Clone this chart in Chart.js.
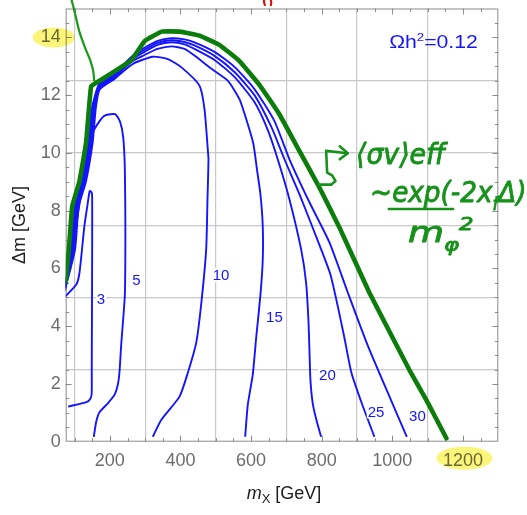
<!DOCTYPE html>
<html>
<head>
<meta charset="utf-8">
<script src="https://cdn.jsdelivr.net/npm/chart.js@4/dist/chart.umd.min.js"></script>
<style>
  html, body { margin: 0; padding: 0; background: #fff; }
  #wrap { width: 527px; height: 515px; position: relative; }
</style>
</head>
<body>
<div id="wrap"><canvas id="c" width="527" height="515"></canvas></div>
<script>
// ---- axis ticks ----
const xTicksLabeled = [200, 400, 600, 800, 1000, 1200];
const yTicksLabeled = [0, 2, 4, 6, 8, 10, 12, 14];
const xGrid = [100, 300, 500, 700, 900, 1100];
const yGrid = [2.5, 5, 7.5, 10, 12.5];
const xMinorStep = 50;
const yMinorStep = 0.5;

// ---- relic-density envelope (thick green) : [m_X, Δm] ----
const envelope = [
  [75, 5.55], [84, 6.66], [93.5, 8.15], [114, 9.02], [133, 10.37], [147, 12.3],
  [171, 12.5], [246, 13.08], [262, 13.22], [299, 13.88], [347, 14.2], [398, 14.2],
  [454, 14.06], [510, 13.74], [567, 13.18], [624, 12.35], [680, 11.34], [737, 10.06],
  [793, 8.81], [850, 7.42], [935, 5.16], [1048, 2.49], [1096, 1.45], [1153, 0.12]
];

// ---- Ωh² = 0.12 contours (blue), one per coupling value ----
const contour3 = [
  [73, 5.02], [105, 5.44], [114, 5.85], [128, 7.47], [137, 8.22], [143, 8.68],
  [149, 8.62], [150, 8.3], [150, 7.0], [149.5, 4.9], [148.8, 2.5], [148.5, 1.65],
  [144, 1.47], [134, 1.37], [82, 1.22]
];
const contour5 = [
  [73, 5.2], [85.8, 6.14], [102.8, 7.35], [122.6, 8.91], [136.8, 9.85], [147.3, 10.59],
  [170.8, 11.1], [187, 11.3], [215, 11.34], [229, 11.08], [238, 10.53], [242.5, 9.43],
  [244, 7.35], [242.5, 5.09], [232.2, 3.36], [227.4, 2.43], [222.6, 1.97], [213.2, 1.62],
  [194.3, 1.33], [170.8, 1.02], [161.4, 0.69], [154.6, 0.17]
];
const contour10 = [
  [73, 5.27], [101.4, 6.65], [111.9, 8.15], [132.6, 9.02], [151.5, 10.37], [160, 11.52],
  [170.8, 12.19], [213.2, 12.56], [265, 13.08], [321.6, 13.33], [364, 13.25], [402, 12.97],
  [453.8, 12.33], [468, 11.52], [477.3, 10.13], [479.3, 9.78], [476.5, 8.39], [472.8, 6.66],
  [458.6, 4.75], [444.5, 3.42], [420.7, 2.38], [397.2, 1.56], [345.4, 0.75], [321.6, 0.17]
];
const contour15 = [
  [73, 5.32], [98.6, 6.65], [109.1, 8.15], [129.7, 9.02], [148.7, 10.37], [157.2, 11.52],
  [170.8, 12.26], [213.2, 12.61], [264.2, 13.18], [298.1, 13.39], [334.9, 13.6], [374.6, 13.69],
  [411.4, 13.6], [439.7, 13.37], [487.8, 12.91], [533.9, 12.5], [567, 11.86], [590.5, 11.0],
  [606.6, 10.3], [616.6, 9.43], [626.5, 8.56], [633, 7.47], [633, 6.31], [626.5, 5.09],
  [614.3, 3.59], [604.7, 2.32], [590.5, 1.27], [583.2, 0.17]
];
const contour20 = [
  [73, 5.37], [95.8, 6.65], [106.2, 8.15], [126.9, 9.02], [145.9, 10.37], [154.3, 11.52],
  [170.8, 12.3], [213.2, 12.66], [264.2, 13.25], [298.1, 13.5], [334.9, 13.74], [374.6, 13.83],
  [411.4, 13.76], [439.7, 13.6], [496.3, 13.22], [552.9, 12.63], [609.5, 11.76], [646.3, 10.82],
  [675.4, 9.78], [708.6, 8.39], [741.7, 6.66], [755.8, 5.5], [762.3, 4.22], [765.2, 3.18],
  [768, 2.14], [774.5, 1.33], [785, 0.75], [798.3, 0.17]
];
const contour25 = [
  [73, 5.42], [92.9, 6.65], [103.4, 8.15], [124.1, 9.02], [143, 10.37], [151.5, 11.52],
  [170.8, 12.37], [213.2, 12.71], [264.2, 13.3], [298.1, 13.57], [334.9, 13.81], [374.6, 13.9],
  [411.4, 13.84], [439.7, 13.72], [496.3, 13.36], [552.9, 12.8], [609.5, 12.0], [657.6, 10.89],
  [694.4, 9.78], [736.9, 8.57], [798.3, 6.66], [824.6, 5.79], [844.4, 4.75], [864.2, 3.6],
  [884.1, 2.39], [915.2, 1.27], [949.2, 0.17]
];
const contour30 = [
  [73, 5.48], [90.1, 6.65], [100.6, 8.15], [121.2, 9.02], [140.2, 10.37], [148.7, 11.52],
  [170.8, 12.42], [213.2, 12.77], [264.2, 13.36], [298.1, 13.64], [334.9, 13.88], [374.6, 13.97],
  [411.4, 13.93], [439.7, 13.83], [496.3, 13.5], [552.9, 12.98], [609.5, 12.21], [666.1, 11.1],
  [708.6, 9.78], [765.2, 8.29], [821.8, 6.9], [872.7, 5.2], [929.3, 3.36], [985.9, 1.73],
  [1041, 0.17]
];
const contourSeries = [contour3, contour5, contour10, contour15, contour20, contour25, contour30];

// contour labels and where they sit
const contourLevels = ['3', '5', '10', '15', '20', '25', '30'];
const labelX = [175, 275, 515, 666, 816, 954, 1071];
const labelY = [4.95, 5.61, 5.77, 4.31, 2.32, 1.05, 0.88];

// ---- hand-drawn notes ----
const noteStroke = [
  [90.7, 15.34], [102.8, 14.76], [114.2, 14.18], [131.1, 13.6], [145.3, 13.18], [152.9, 12.84], [155.8, 12.49]
];
const hookArrow = [
  [791.5, 8.9], [826.6, 8.9], [838.8, 9.03], [829.5, 9.22], [815.3, 9.32], [812.5, 10.07], [873.6, 9.99]
];
const hookHead = [[851.1, 10.23], [873.6, 9.99], [851.1, 9.78]];
const redMarkA = [[636, 15.36], [637, 15.2], [639, 15.12]];
const redMarkB = [[655, 15.36], [657, 15.22], [656, 15.12]];

const FONT = '"Liberation Sans", Arial, Helvetica, sans-serif';
const BLUE = '#1414ff';
const GREEN = '#0b7d0b';
const HAND = '#16921a';

const toPts = arr => arr.map(([x, y]) => ({ x, y }));

const datasets = [
  { label: 'envelope', data: toPts(envelope), borderColor: GREEN, borderWidth: 4.6,
    tension: 0.1, order: 0, borderJoinStyle: 'round', borderCapStyle: 'round' },
  { label: 'note', data: toPts(noteStroke), borderColor: '#1a9a1a', borderWidth: 2.2,
    tension: 0.3, order: 0, clip: false }
];
contourSeries.forEach((pts, i) => {
  datasets.push({ label: 'g = ' + contourLevels[i], data: toPts(pts), borderColor: BLUE,
    borderWidth: 1.9, tension: 0.2, order: 1, borderJoinStyle: 'round' });
});

function strokePath(ctx, xs, ys, pts) {
  ctx.beginPath();
  pts.forEach(([x, y], i) => {
    const px = xs.getPixelForValue(x), py = ys.getPixelForValue(y);
    if (i === 0) ctx.moveTo(px, py); else ctx.lineTo(px, py);
  });
  ctx.stroke();
}

// draw a run of text pieces (normal / sub / sup) squeezed into [x0, x1]
function drawRuns(ctx, runs, x0, x1, yBase, size, style, family, outline) {
  const parts = runs.map(([t, kind]) => {
    const s = kind === 'n' ? size : size * 0.62;
    const f = `${style} ${s}px ${family}`;
    ctx.font = f;
    return { t, f, w: ctx.measureText(t).width, dy: kind === 'sub' ? size * 0.28 : kind === 'sup' ? -size * 0.42 : 0 };
  });
  const total = parts.reduce((a, p) => a + p.w, 0);
  ctx.save();
  ctx.translate(x0, yBase);
  ctx.scale((x1 - x0) / total, 1);
  let cx = 0;
  parts.forEach(p => {
    ctx.font = p.f;
    ctx.fillText(p.t, cx, p.dy);
    if (outline) ctx.strokeText(p.t, cx, p.dy);
    cx += p.w;
  });
  ctx.restore();
}

const decor = {
  id: 'decor',
  beforeDraw(chart) {
    const ctx = chart.ctx;
    ctx.save();
    ctx.fillStyle = '#fff';
    ctx.fillRect(0, 0, chart.width, chart.height);
    ctx.restore();
  },
  beforeDatasetsDraw(chart) {
    const { ctx, chartArea: ca, scales: { x: xs, y: ys } } = chart;
    ctx.save();
    ctx.strokeStyle = '#8c8c8c';
    ctx.lineWidth = 1;
    ctx.strokeRect(ca.left + 0.5, ca.top + 0.5, ca.right - ca.left - 1, ca.bottom - ca.top - 1);
    ctx.beginPath();
    for (let v = Math.ceil(xs.min / xMinorStep) * xMinorStep; v < xs.max; v += xMinorStep) {
      const px = Math.round(xs.getPixelForValue(v)) + 0.5;
      const len = xTicksLabeled.includes(v) ? 6 : 3.5;
      ctx.moveTo(px, ca.bottom); ctx.lineTo(px, ca.bottom - len);
      ctx.moveTo(px, ca.top); ctx.lineTo(px, ca.top + len);
    }
    for (let v = ys.min + yMinorStep; v < ys.max; v += yMinorStep) {
      const py = Math.round(ys.getPixelForValue(v)) + 0.5;
      const len = yTicksLabeled.includes(v) ? 6 : 3.5;
      ctx.moveTo(ca.left, py); ctx.lineTo(ca.left + len, py);
      ctx.moveTo(ca.right, py); ctx.lineTo(ca.right - len, py);
    }
    ctx.stroke();
    ctx.restore();
  },
  afterDatasetsDraw(chart) {
    const { ctx, chartArea: ca, scales: { x: xs, y: ys } } = chart;
    ctx.save();
    // contour labels
    ctx.font = `15px ${FONT}`;
    ctx.textAlign = 'center';
    ctx.textBaseline = 'middle';
    contourLevels.forEach((t, i) => {
      const px = xs.getPixelForValue(labelX[i]), py = ys.getPixelForValue(labelY[i]);
      const w = ctx.measureText(t).width;
      ctx.fillStyle = '#fff';
      ctx.fillRect(px - w / 2 - 1, py - 7, w + 2, 14);
      ctx.fillStyle = BLUE;
      ctx.fillText(t, px, py + 1);
    });
    // relic density tag
    ctx.textAlign = 'left';
    ctx.textBaseline = 'alphabetic';
    ctx.fillStyle = BLUE;
    drawRuns(ctx, [['Ωh', 'n'], ['2', 'sup'], ['=0.12', 'n']],
      xs.getPixelForValue(991), xs.getPixelForValue(1242), ys.getPixelForValue(13.63), 18, 'normal', FONT, false);

    // hand-written note
    ctx.strokeStyle = HAND;
    ctx.fillStyle = HAND;
    ctx.lineWidth = 2.6;
    ctx.lineJoin = 'round';
    ctx.lineCap = 'round';
    strokePath(ctx, xs, ys, hookArrow);
    strokePath(ctx, xs, ys, hookHead);
    const hf = '"DejaVu Sans", sans-serif';
    ctx.lineWidth = 0.9;
    drawRuns(ctx, [['⟨σv⟩', 'n'], ['eff', 'n']], xs.getPixelForValue(897), xs.getPixelForValue(1150), ys.getPixelForValue(9.62), 29, 'italic', hf, true);
    drawRuns(ctx, [['~exp(-2x', 'n'], ['f', 'sub'], ['Δ)', 'n']], xs.getPixelForValue(937), xs.getPixelForValue(1380), ys.getPixelForValue(8.3), 29, 'italic', hf, true);
    ctx.lineWidth = 2.6;
    ctx.beginPath();
    ctx.moveTo(xs.getPixelForValue(990), ys.getPixelForValue(8.06));
    ctx.lineTo(xs.getPixelForValue(1172), ys.getPixelForValue(8.06));
    ctx.stroke();
    ctx.lineWidth = 0.9;
    drawRuns(ctx, [['m', 'n'], ['φ', 'sub'], ['2', 'sup']], xs.getPixelForValue(1044), xs.getPixelForValue(1230), ys.getPixelForValue(6.9), 29, 'italic', hf, true);

    // red pen marks at the top edge
    ctx.strokeStyle = '#d41515';
    ctx.lineWidth = 2.2;
    strokePath(ctx, xs, ys, redMarkA);
    strokePath(ctx, xs, ys, redMarkB);
    ctx.restore();

    // axis titles
    ctx.save();
    ctx.fillStyle = '#1c1c1c';
    ctx.font = `18px ${FONT}`;
    ctx.textAlign = 'center';
    ctx.textBaseline = 'middle';
    ctx.translate(20, (ca.top + ca.bottom) / 2);
    ctx.rotate(-Math.PI / 2);
    ctx.fillText('Δm [GeV]', 0, 0);
    ctx.restore();

    ctx.save();
    ctx.fillStyle = '#1c1c1c';
    ctx.textBaseline = 'alphabetic';
    const pieces = [
      { t: 'm', f: `italic 18px ${FONT}`, dy: 0 },
      { t: 'X', f: `13px ${FONT}`, dy: 4 },
      { t: ' [GeV]', f: `18px ${FONT}`, dy: 0 }
    ];
    let tw = 0;
    pieces.forEach(p => { ctx.font = p.f; p.w = ctx.measureText(p.t).width; tw += p.w; });
    let cx = (ca.left + ca.right) / 2 + 2 - tw / 2;
    pieces.forEach(p => { ctx.font = p.f; ctx.fillText(p.t, cx, 499 + p.dy); cx += p.w; });
    ctx.restore();
  },
  afterDraw(chart) {
    const { ctx, chartArea: ca, scales: { x: xs, y: ys } } = chart;
    // highlighter marks on two tick labels
    ctx.save();
    ctx.globalCompositeOperation = 'multiply';
    ctx.fillStyle = '#fbf57a';
    ctx.beginPath();
    ctx.ellipse(ca.left - 12, ys.getPixelForValue(14), 21, 10, 0, 0, Math.PI * 2);
    ctx.fill();
    ctx.beginPath();
    ctx.ellipse(xs.getPixelForValue(1200) + 1.5, ca.bottom + 16.5, 28, 11.5, 0, 0, Math.PI * 2);
    ctx.fill();
    ctx.restore();
  }
};

new Chart(document.getElementById('c'), {
  type: 'line',
  data: { datasets },
  options: {
    responsive: false,
    devicePixelRatio: 1,
    animation: false,
    events: [],
    elements: { point: { radius: 0 }, line: { fill: false } },
    layout: { padding: { top: 8.5, right: 28.7, left: 0, bottom: 0 } },
    plugins: { legend: { display: false }, tooltip: { enabled: false } },
    scales: {
      x: {
        type: 'linear', min: 75, max: 1300,
        afterBuildTicks: s => {
          s.ticks = [...new Set([...xTicksLabeled, ...xGrid])].sort((a, b) => a - b).map(v => ({ value: v }));
        },
        afterFit: s => { s.height = 73.3; s.paddingLeft = 0; s.paddingRight = 0; },
        ticks: {
          autoSkip: false, maxRotation: 0, padding: 9, color: '#6c6c6c',
          font: { size: 18, family: FONT },
          callback: v => xTicksLabeled.includes(v) ? String(v) : ''
        },
        grid: {
          drawTicks: false, tickLength: 0, lineWidth: 1.2,
          color: c => (c.tick && xGrid.includes(c.tick.value)) ? '#c8c8c8' : 'rgba(0,0,0,0)'
        },
        border: { display: false }
      },
      y: {
        type: 'linear', min: 0, max: 15,
        afterBuildTicks: s => {
          s.ticks = [...new Set([...yTicksLabeled, ...yGrid])].sort((a, b) => a - b).map(v => ({ value: v }));
        },
        afterFit: s => { s.width = 65.7; s.paddingTop = 0; s.paddingBottom = 0; },
        ticks: {
          autoSkip: false, padding: 5, color: '#6c6c6c',
          font: { size: 18, family: FONT },
          callback: v => yTicksLabeled.includes(v) ? String(v) : ''
        },
        grid: {
          drawTicks: false, tickLength: 0, lineWidth: 1.2,
          color: c => (c.tick && yGrid.includes(c.tick.value)) ? '#c8c8c8' : 'rgba(0,0,0,0)'
        },
        border: { display: false }
      }
    }
  },
  plugins: [decor]
});
</script>
</body>
</html>
